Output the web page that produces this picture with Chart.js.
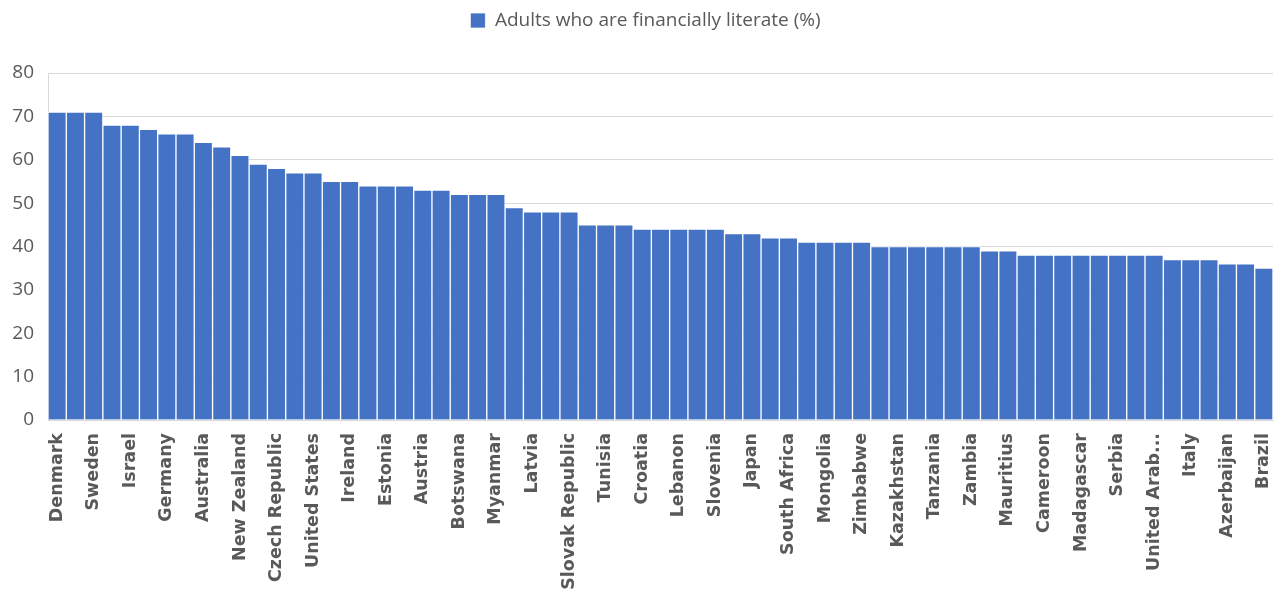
<!DOCTYPE html>
<html><head><meta charset="utf-8">
<script src="https://cdn.jsdelivr.net/npm/chart.js@4"></script>
<style>html,body{margin:0;padding:0;background:#fff}#wrap{width:1287px;height:596px}</style>
</head><body><div id="wrap"><canvas id="c" width="1287" height="596"></canvas></div>
<script>
const countries = [
 'Denmark','Norway','Sweden','Canada','Israel','United Kingdom','Germany','Netherlands','Australia','Finland',
 'New Zealand','Singapore','Czech Republic','Switzerland','United States','Belgium','Ireland','Hungary','Estonia','Bhutan',
 'Austria','Luxembourg','Botswana','France','Myanmar','Spain','Latvia','Lithuania','Slovak Republic','Uruguay',
 'Tunisia','Malaysia','Croatia','Malta','Lebanon','Poland','Slovenia','Jordan','Japan','Greece',
 'South Africa','Ukraine','Mongolia','Senegal','Zimbabwe','Korea','Kazakhstan','Chile','Tanzania','Russia',
 'Zambia','Uganda','Mauritius','Kenya','Cameroon','Iran','Madagascar','Egypt','Serbia','Ghana',
 'United Arab Emirates','Hong Kong','Italy','Pakistan','Azerbaijan','Argentina','Brazil'
];
const values = [
 71,71,71,68,68,67,66,66,64,63,
 61,59,58,57,57,55,55,54,54,54,
 53,53,52,52,52,49,48,48,48,45,
 45,45,44,44,44,44,44,43,43,42,
 42,41,41,41,41,40,40,40,40,40,
 40,39,39,38,38,38,38,38,38,38,
 38,37,37,37,36,36,35
];
const seriesLabel = 'Adults who are financially literate (%)';
const yMin = 0, yMax = 80, yStep = 10;

const FONT = "'Open Sans', 'Liberation Sans', sans-serif";
const XFONT = "'DejaVu Sans', 'Open Sans', sans-serif";
const TXT = '#595959';

const legendGap = {
  id: 'legendGap',
  beforeInit(chart) {
    const orig = chart.legend.fit;
    chart.legend.fit = function () {
      orig.call(this);
      this.height += 33;
    };
  },
  afterLayout(chart) {
    chart.legend.left += 9;
    chart.legend.right += 9;
  }
};

new Chart(document.getElementById('c'), {
  type: 'bar',
  plugins: [legendGap],
  data: {
    labels: countries,
    datasets: [{
      label: seriesLabel,
      data: values,
      backgroundColor: '#4472C4',
      borderColor: 'rgba(255,255,255,0.75)',
      borderWidth: 1,
      categoryPercentage: 1,
      barPercentage: 1
    }]
  },
  options: {
    responsive: false,
    animation: false,
    layout: { padding: { left: 0, right: 14, top: 1, bottom: 0 } },
    plugins: {
      legend: {
        position: 'top',
        labels: { boxWidth: 15, boxHeight: 15, color: TXT, padding: 10, font: { family: FONT, size: 19 } }
      },
      tooltip: { enabled: false }
    },
    scales: {
      x: {
        grid: { display: false, drawTicks: false },
        border: { display: true, color: '#d9d9d9' },
        ticks: {
          autoSkip: false, maxRotation: 90, minRotation: 90, padding: 13,
          color: TXT, font: { family: XFONT, size: 17.5, weight: 'bold' },
          callback: function (v, i) {
            const l = this.getLabelForValue(v);
            if (i % 2 !== 0) return '';
            return l === 'United Arab Emirates' ? 'United Arab...' : l;
          }
        },
        afterFit: s => { s.height = 176; s.paddingLeft = 0; s.paddingRight = 0; }
      },
      y: {
        min: yMin, max: yMax,
        grid: { color: '#d9d9d9', drawTicks: false },
        border: { display: true, color: '#d9d9d9' },
        ticks: { stepSize: yStep, padding: 14, color: TXT, font: { family: FONT, size: 19 } },
        afterFit: s => { s.width = 48; }
      }
    }
  }
});
</script>
</body></html>
